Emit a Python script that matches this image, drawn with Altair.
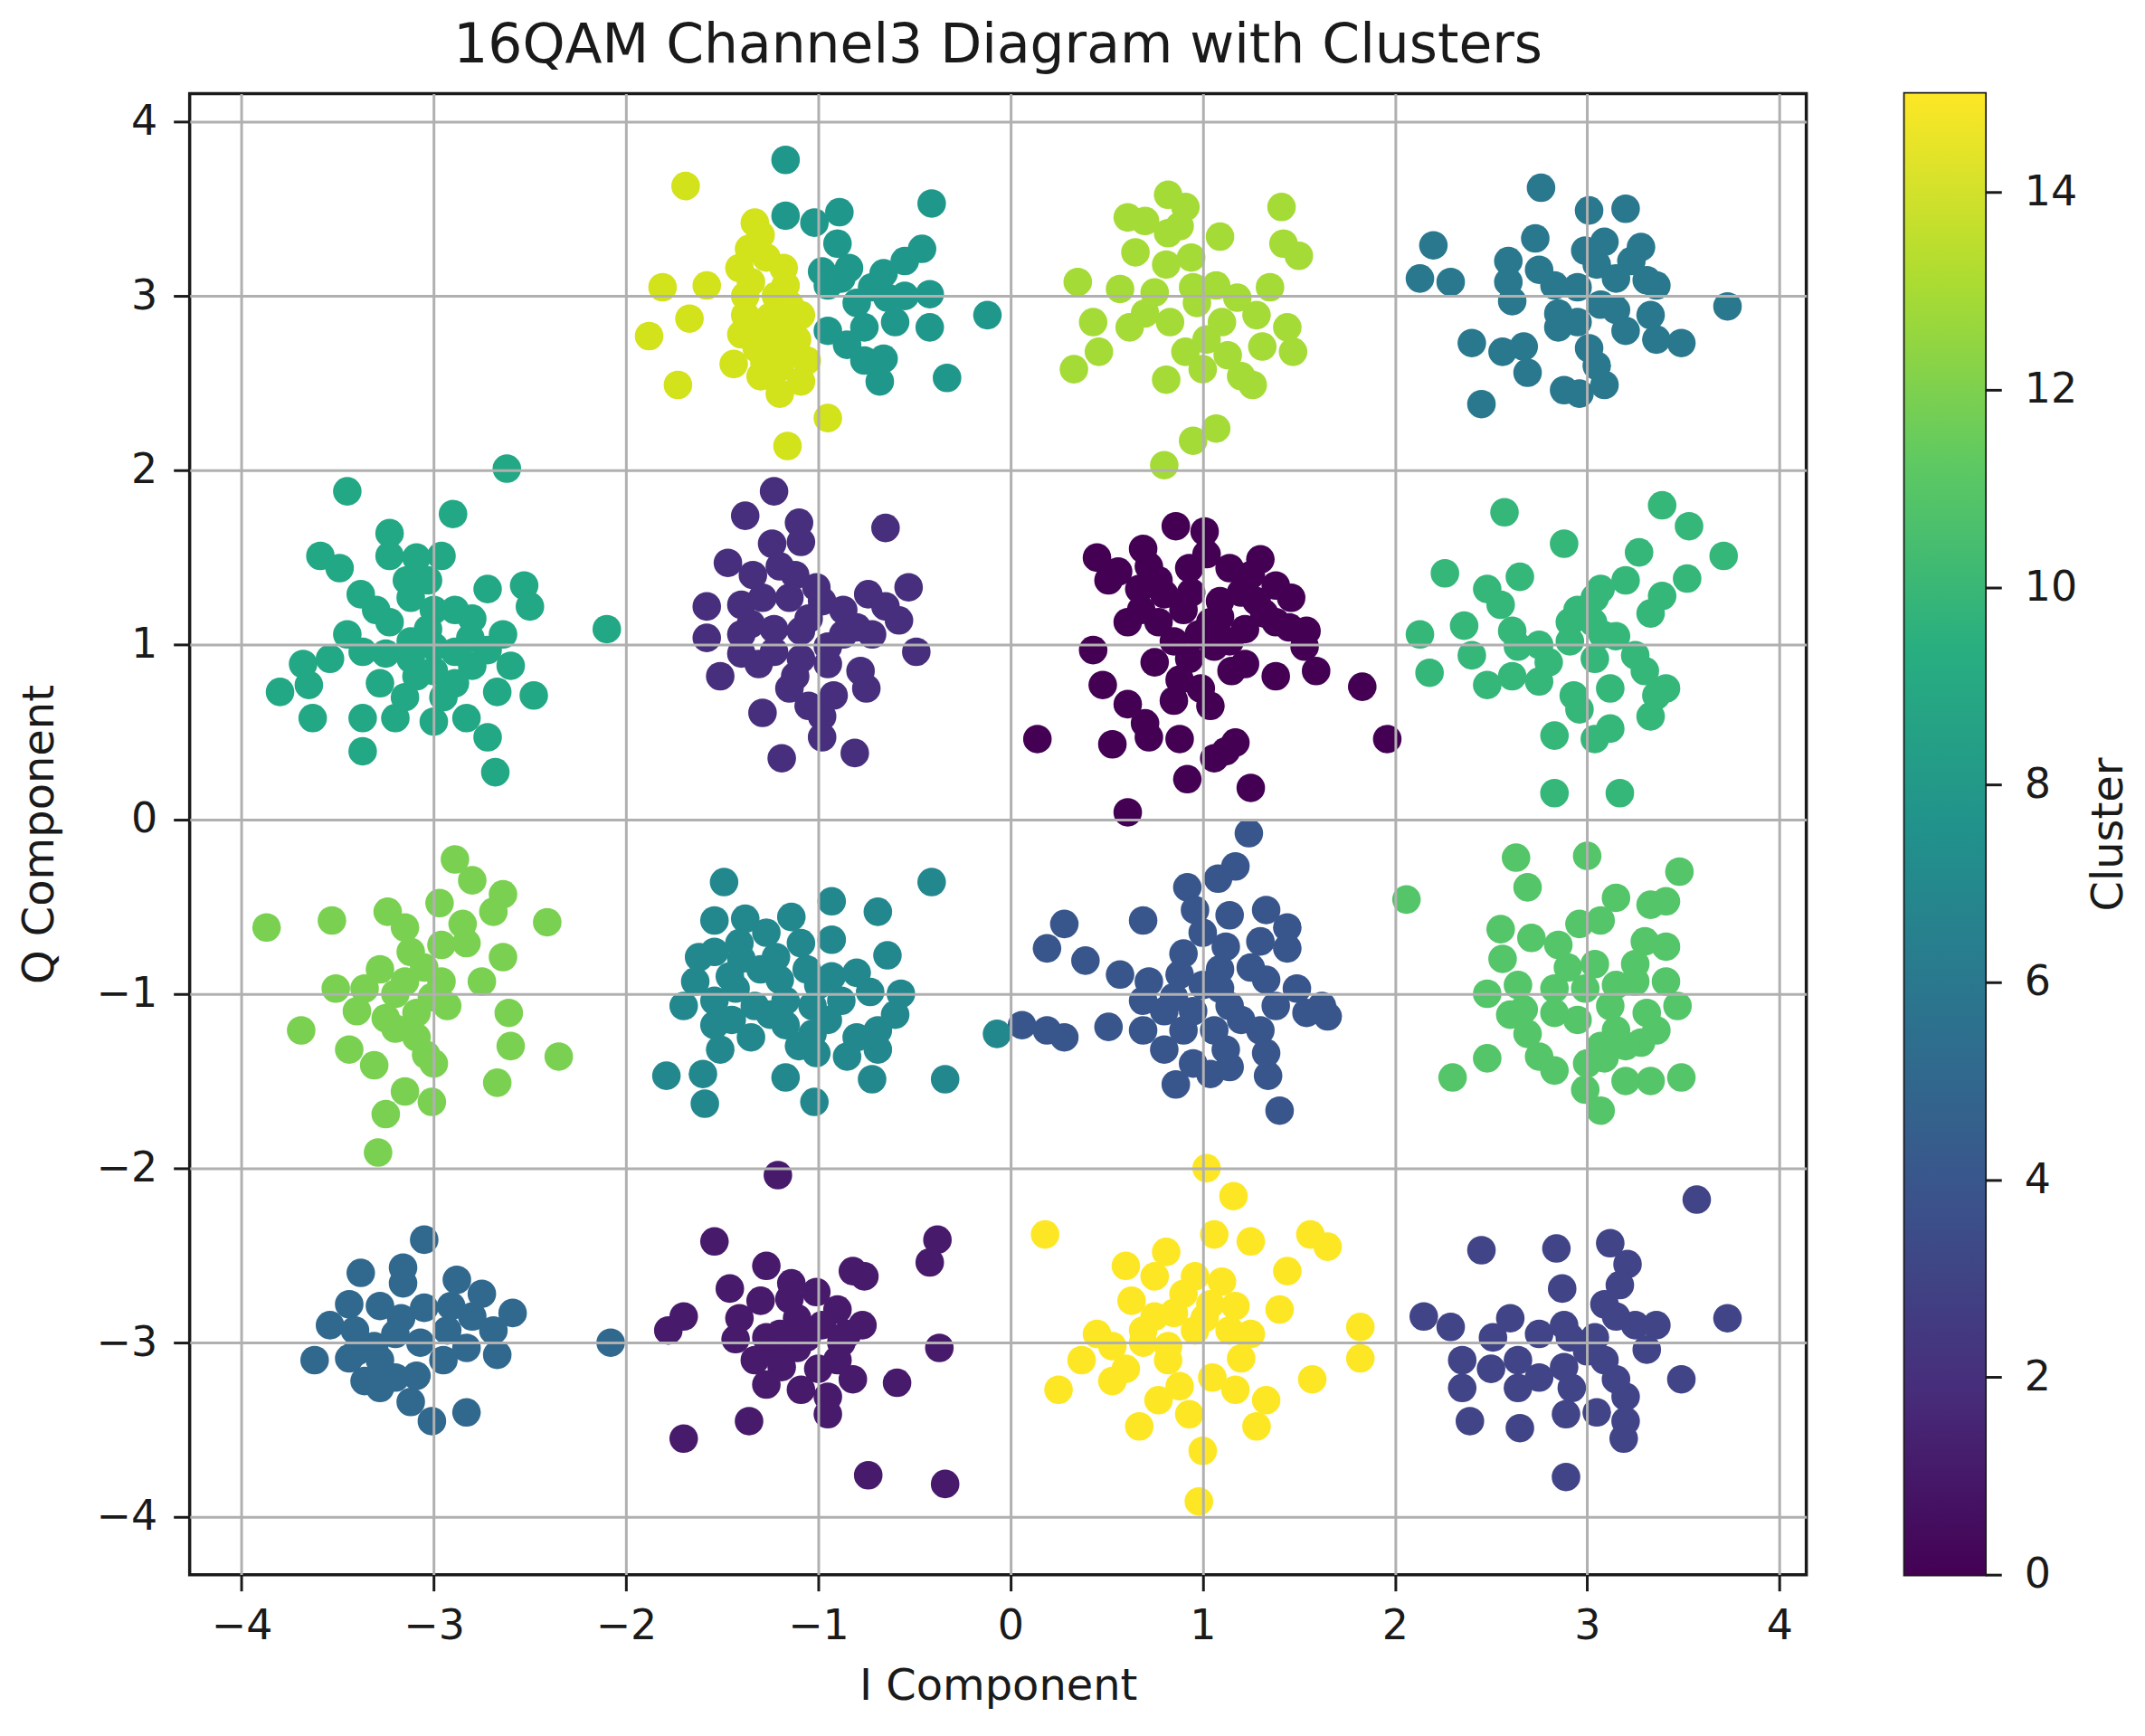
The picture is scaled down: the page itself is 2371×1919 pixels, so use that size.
import altair as alt
import pandas as pd

TITLE = "16QAM Channel3 Diagram with Clusters"
X_TITLE = "I Component"
Y_TITLE = "Q Component"
CBAR_TITLE = "Cluster"
AXIS_TICKS = [-4, -3, -2, -1, 0, 1, 2, 3, 4]
CBAR_TICKS = [0, 2, 4, 6, 8, 10, 12, 14]

# (I, Q) points of each cluster
C00 = [(0.86,1.68),(1.01,1.65),(0.69,1.55),(0.45,1.50),
       (0.51,1.37),(0.67,1.32),(0.77,1.37),(0.93,1.44),(0.94,1.30),(1.14,1.44),(1.30,1.49),(1.20,1.30),(1.38,1.34),(1.46,1.27),
       (0.61,1.13),(0.77,1.13),(0.90,1.20),(1.09,1.16),(1.22,1.09),(1.38,1.13),(1.54,1.08),
       (0.43,0.97),(0.93,0.92),(1.06,0.99),(1.22,0.89),(1.38,0.82),(1.53,0.99),(1.59,0.85),(1.83,0.76),
       (0.48,0.77),(0.61,0.66),(0.85,0.68),(1.04,0.65),(0.99,0.75),
       (0.14,0.46),(0.53,0.43),(0.72,0.47),(0.88,0.46),(1.12,0.39),(1.17,0.44),
       (1.96,0.46),(0.92,0.23),(1.25,0.18),(0.61,0.04),(1.06,0.35),
       (0.80,1.29),(1.09,1.25),(1.28,1.25),(0.85,1.02),(1.14,1.02),(1.04,1.13),
       (0.56,1.42),(0.72,1.45),(1.02,1.52),(1.25,1.40),(0.68,1.20),(0.98,1.06),
       (1.32,1.18),(1.45,1.10),(0.75,0.90),(0.88,0.80),(1.15,0.85),(0.70,0.55)]
C01 = [(-1.21,-2.04),(-1.54,-2.42),(-0.38,-2.41),(-0.42,-2.54),(-1.27,-2.56),(-0.82,-2.59),(-0.76,-2.62),
       (-1.46,-2.69),(-1.14,-2.66),(-1.01,-2.71),(-1.70,-2.85),(-1.78,-2.93),
       (-1.41,-2.86),(-1.30,-2.76),(-1.11,-2.86),(-0.90,-2.81),(-0.77,-2.90),
       (-1.43,-2.98),(-1.27,-2.97),(-1.06,-2.97),(-0.88,-3.00),(-0.37,-3.03),
       (-1.33,-3.10),(-1.19,-3.14),(-0.90,-3.10),(-0.82,-3.21),
       (-1.27,-3.24),(-1.09,-3.27),(-0.95,-3.31),(-0.95,-3.41),(-0.59,-3.23),
       (-1.36,-3.45),(-1.70,-3.55),(-0.74,-3.76),(-0.34,-3.81),(-1.11,-3.03),(-0.98,-2.90),
       (-1.20,-2.95),(-1.00,-3.15),(-1.15,-2.75),(-1.25,-3.05),(-0.85,-2.95)]
C02 = [(-1.23,1.88),(-1.38,1.74),(-1.10,1.70),(-1.09,1.59),(-1.24,1.58),(-0.65,1.67),(-1.47,1.47),
       (-1.34,1.40),(-1.12,1.40),(-1.01,1.33),(-0.53,1.33),
       (-1.58,1.22),(-1.40,1.23),(-1.29,1.27),(-1.15,1.27),(-0.98,1.25),(-0.87,1.20),(-0.74,1.29),(-0.58,1.14),
       (-1.58,1.04),(-1.40,1.06),(-1.23,1.09),(-1.09,1.08),(-0.87,1.06),(-0.72,1.06),(-0.49,0.96),
       (-1.51,0.82),(-1.31,0.89),(-1.12,0.82),(-0.95,0.89),(-0.78,0.85),
       (-0.75,0.75),(-1.29,0.61),(-0.98,0.59),(-0.92,0.71),(-0.98,0.47),(-1.19,0.35),(-0.81,0.38),
       (-1.23,0.96),(-1.09,0.92),(-0.95,0.99),
       (-1.20,1.45),(-1.05,1.15),(-1.35,1.12),(-0.80,1.10),(-1.15,0.75),(-1.40,0.95),(-0.65,1.22),(-1.05,0.65)]
C03 = [(3.57,-2.18),(2.45,-2.47),(2.84,-2.46),(3.12,-2.43),(3.21,-2.55),
       (2.87,-2.69),(3.17,-2.67),(3.09,-2.78),
       (2.15,-2.85),(2.29,-2.91),(2.60,-2.86),(2.88,-2.90),(3.25,-2.90),(3.36,-2.90),(3.73,-2.86),
       (2.51,-2.97),(2.91,-2.97),(3.04,-2.97),(3.31,-3.04),
       (2.35,-3.10),(2.64,-3.10),(2.88,-3.14),(3.09,-3.10),(3.49,-3.21),
       (2.35,-3.26),(2.64,-3.26),(2.92,-3.26),(3.15,-3.21),(3.20,-3.31),
       (2.39,-3.45),(2.65,-3.49),(2.89,-3.41),(3.20,-3.45),(3.19,-3.55),(2.89,-3.77),
       (2.75,-2.95),(3.00,-3.05),(3.15,-2.85),(2.50,-3.15),(3.05,-3.40),(2.75,-3.20)]
C04 = [(1.24,-0.08),(1.17,-0.27),(1.08,-0.34),(0.92,-0.39),(0.96,-0.52),(0.69,-0.58),(0.28,-0.60),(0.19,-0.74),
       (1.33,-0.52),(1.14,-0.55),(1.44,-0.62),(1.44,-0.74),(1.30,-0.70),(0.39,-0.81),
       (0.90,-0.77),(1.12,-0.73),(1.09,-0.86),
       (0.57,-0.89),(0.72,-0.93),(0.88,-0.89),(1.33,-0.92),(1.49,-0.97),(1.62,-1.07),(1.65,-1.13),
       (0.69,-1.04),(0.85,-1.02),(1.09,-0.97),(1.14,-1.07),(1.38,-1.07),(1.54,-1.11),
       (0.06,-1.18),(0.19,-1.21),(0.28,-1.25),(0.51,-1.19),
       (0.69,-1.21),(0.80,-1.32),(0.90,-1.21),(1.06,-1.21),(1.12,-1.32),(1.30,-1.21),(1.33,-1.34),
       (0.86,-1.52),(1.04,-1.46),(1.14,-1.42),(1.34,-1.47),(1.40,-1.67),
       (1.00,-0.65),(0.95,-1.10),(1.00,-0.95),(0.80,-1.10),(1.25,-0.85),(1.20,-1.15),(0.95,-1.40)]
C05 = [(-3.05,-2.41),(-3.38,-2.60),(-3.16,-2.57),(-3.16,-2.66),(-2.88,-2.64),(-2.75,-2.72),(-2.59,-2.83),
       (-3.44,-2.78),(-3.28,-2.79),(-3.17,-2.86),(-3.54,-2.90),(-3.41,-2.93),
       (-2.91,-2.79),(-2.93,-2.93),(-2.69,-2.93),(-2.67,-3.07),(-2.83,-3.03),
       (-3.62,-3.10),(-3.44,-3.09),(-3.28,-3.10),(-3.36,-3.22),(-3.28,-3.26),(-3.09,-3.19),
       (-3.12,-3.34),(-3.01,-3.45),(-2.83,-3.40),(-2.08,-3.00),(-3.07,-3.00),(-3.31,-3.02),
       (-3.20,-2.95),(-3.05,-2.80),(-3.40,-3.05),(-2.95,-3.10),(-3.20,-3.20),(-2.80,-2.85)]
C06 = [(2.76,3.62),(3.01,3.49),(3.20,3.50),(2.73,3.33),(2.20,3.29),(2.59,3.20),
       (2.99,3.26),(3.09,3.31),(3.28,3.28),
       (2.13,3.10),(2.29,3.08),(2.59,3.08),(2.83,3.06),(3.31,3.09),(3.36,3.06),
       (2.61,2.97),(2.85,2.90),(3.07,2.95),(3.15,2.92),(3.33,2.89),(3.73,2.94),
       (2.40,2.73),(2.56,2.68),(2.67,2.71),(2.85,2.82),(3.01,2.70),(3.36,2.75),(3.49,2.73),
       (2.69,2.56),(2.88,2.46),(3.09,2.49),(2.96,2.44),(2.45,2.38),(3.05,3.18),(3.23,3.20),
       (2.95,3.05),(3.15,3.10),(2.75,3.15),(2.95,2.85),(3.20,2.80),(3.05,2.60)]
C07 = [(-1.49,-0.36),(-0.41,-0.36),(-0.93,-0.47),(-0.69,-0.53),(-1.54,-0.58),(-1.38,-0.57),(-1.14,-0.56),
       (-0.93,-0.69),(-0.64,-0.78),
       (-1.62,-0.79),(-1.54,-0.76),(-1.41,-0.71),(-1.27,-0.65),(-1.09,-0.71),
       (-1.64,-0.93),(-1.46,-0.90),(-1.30,-0.86),(-1.06,-0.86),(-0.93,-0.90),(-0.73,-0.99),(-0.57,-1.00),
       (-1.70,-1.07),(-1.54,-1.04),(-1.33,-1.07),(-1.17,-1.04),(-1.03,-1.07),(-0.88,-1.04),
       (-1.54,-1.18),(-1.35,-1.25),(-1.17,-1.18),(-1.03,-1.23),(-0.80,-1.25),(-0.69,-1.21),
       (-1.51,-1.32),(-1.01,-1.34),(-0.85,-1.36),(-0.69,-1.32),(-0.07,-1.23),
       (-1.79,-1.47),(-1.60,-1.46),(-1.17,-1.48),(-0.72,-1.49),(-0.34,-1.49),
       (-1.59,-1.63),(-1.02,-1.62),(-1.22,-0.79),(-1.43,-0.97),
       (-1.40,-0.80),(-1.20,-0.92),(-1.00,-0.95),(-0.80,-0.88),(-1.45,-1.15),
       (-1.25,-1.12),(-0.95,-1.15),(-1.10,-1.30),(-0.60,-1.12)]
C08 = [(-1.17,3.78),(-1.17,3.46),(-1.02,3.42),(-0.89,3.48),(-0.41,3.53),(-0.46,3.27),
       (-0.98,3.14),(-0.84,3.16),(-0.66,3.13),(-0.64,2.99),(-0.80,2.96),(-0.42,3.01),
       (-0.95,2.80),(-0.76,2.82),(-0.42,2.82),(-0.12,2.89),(-0.76,2.63),(-0.66,2.64),
       (-0.68,2.51),(-0.33,2.53),(-0.95,3.06),(-0.72,3.05),(-0.55,3.00),(-0.88,3.10),
       (-0.90,3.30),(-0.60,2.85),(-0.85,2.72),(-0.55,3.20)]
C09 = [(-3.45,1.88),(-2.62,2.01),(-2.90,1.75),(-3.23,1.64),(-3.59,1.51),(-3.49,1.44),
       (-3.23,1.51),(-3.09,1.50),(-2.96,1.51),
       (-3.38,1.29),(-3.14,1.37),(-3.12,1.27),(-2.89,1.20),(-2.72,1.32),(-2.53,1.34),(-2.50,1.22),
       (-2.10,1.09),
       (-3.45,1.06),(-3.23,1.13),(-3.03,1.09),(-2.81,1.04),(-2.64,1.06),
       (-3.68,0.89),(-3.54,0.92),(-3.37,0.96),(-3.12,0.92),(-2.89,0.96),(-2.72,0.97),
       (-3.80,0.73),(-3.65,0.77),
       (-3.28,0.78),(-3.09,0.82),(-2.89,0.78),(-2.67,0.73),(-2.48,0.71),
       (-3.63,0.58),(-3.37,0.58),(-3.20,0.58),(-3.00,0.56),(-2.83,0.58),(-2.72,0.47),
       (-3.37,0.39),(-2.68,0.27),(-3.03,1.37),(-3.00,0.99),(-3.12,1.02),
       (-3.30,1.20),(-3.00,1.20),(-2.80,1.15),(-3.25,0.95),(-3.00,0.85),
       (-2.95,0.70),(-3.15,0.70),(-2.80,0.88),(-2.60,0.88)]
C10 = [(2.57,1.76),(3.39,1.80),(3.53,1.68),(3.71,1.51),(2.88,1.58),(3.27,1.53),
       (2.26,1.41),(2.65,1.39),(2.48,1.32),(2.55,1.23),
       (3.07,1.32),(3.20,1.37),(3.52,1.38),(3.39,1.28),(3.33,1.18),(3.04,1.27),
       (2.13,1.06),(2.36,1.11),(2.61,1.08),(2.64,0.99),(2.91,1.13),(2.91,1.02),(3.08,1.06),(3.25,0.94),
       (2.18,0.84),(2.40,0.94),(2.48,0.77),(2.61,0.82),(2.75,0.79),
       (2.93,0.71),(3.04,0.92),(3.12,0.75),(3.36,0.71),(3.41,0.75),
       (2.83,0.48),(3.04,0.46),(3.12,0.52),(3.33,0.59),
       (2.83,0.15),(3.17,0.15),(2.96,0.63),(3.03,1.13),
       (2.95,1.20),(2.75,1.00),(3.15,1.05),(3.30,0.85),(2.80,0.90)]
C11 = [(2.06,-0.46),(2.63,-0.22),(2.69,-0.39),(3.00,-0.21),(3.48,-0.30),
       (3.15,-0.45),(3.33,-0.49),(3.41,-0.47),(3.07,-0.58),(2.96,-0.60),
       (2.55,-0.63),(2.71,-0.68),(2.85,-0.72),
       (2.56,-0.80),(3.04,-0.83),(3.41,-0.73),(3.25,-0.83),
       (2.48,-1.00),(2.64,-0.95),(2.83,-0.97),(2.99,-0.97),(3.25,-0.93),(3.41,-0.93),
       (2.67,-1.09),(2.83,-1.11),(3.12,-1.07),(3.31,-1.11),(3.47,-1.07),
       (2.69,-1.23),(3.15,-1.21),(3.36,-1.21),(3.07,-1.30),
       (2.48,-1.37),(2.75,-1.36),(3.09,-1.37),(3.28,-1.28),
       (2.30,-1.48),(2.83,-1.44),(2.99,-1.55),(3.33,-1.50),(3.49,-1.48),(3.07,-1.67),(3.20,-1.50),
       (2.90,-0.85),(3.15,-0.95),(2.95,-1.15),(3.20,-1.30),(3.00,-1.40),(2.60,-1.12),(3.30,-0.70)]
C12 = [(-3.87,-0.62),(-3.53,-0.58),(-2.89,-0.23),(-2.80,-0.35),(-2.97,-0.48),(-2.64,-0.43),(-2.69,-0.53),(-2.41,-0.59),
       (-3.24,-0.53),(-3.15,-0.62),(-2.83,-0.71),(-2.96,-0.72),(-3.12,-0.76),(-2.64,-0.79),
       (-3.51,-0.97),(-3.28,-0.86),(-3.36,-0.97),(-3.15,-0.93),(-2.96,-0.93),(-2.75,-0.93),
       (-3.25,-1.14),(-3.09,-1.11),(-2.93,-1.07),(-2.61,-1.11),
       (-3.69,-1.21),(-3.44,-1.32),(-3.31,-1.41),(-3.09,-1.25),(-3.04,-1.35),(-2.60,-1.30),(-2.35,-1.36),
       (-3.25,-1.69),(-3.15,-1.56),(-3.01,-1.62),(-2.67,-1.51),(-3.29,-1.91),(-3.20,-1.00),(-3.01,-1.02),
       (-3.05,-0.85),(-3.20,-1.20),(-3.00,-1.40),(-2.85,-0.60),(-3.40,-1.10)]
C13 = [(0.35,3.08),(0.61,3.45),(0.70,3.43),(0.82,3.58),(0.82,3.36),(0.91,3.51),(1.09,3.34),(1.41,3.51),(1.42,3.30),(1.50,3.23),
       (0.81,3.18),(0.94,3.22),(0.57,3.04),(0.75,3.02),(0.43,2.85),(0.62,2.82),(0.83,2.85),(0.97,2.96),
       (1.07,3.06),(1.18,2.99),(1.28,2.89),(1.44,2.82),(1.02,2.75),(1.13,2.66),(1.31,2.71),(1.47,2.68),
       (0.33,2.58),(0.46,2.68),(0.81,2.52),(1.26,2.49),(1.20,2.54),(0.91,2.68),
       (1.07,2.24),(0.95,2.17),(0.80,2.03),
       (0.65,3.25),(0.95,3.05),(0.70,2.90),(1.10,2.85),(0.88,3.40),(1.35,3.05),(1.00,2.58)]
C14 = [(-1.69,3.63),(-1.81,3.05),(-1.58,3.06),(-1.67,2.87),(-1.88,2.77),(-1.73,2.49),
       (-1.33,3.42),(-1.36,3.27),(-1.41,3.16),(-1.18,3.16),(-1.17,3.06),(-1.38,3.00),
       (-1.38,2.89),(-1.30,2.78),(-1.09,2.89),(-1.11,2.75),(-1.44,2.61),(-1.30,2.54),
       (-1.20,2.59),(-1.06,2.63),(-1.20,2.44),(-1.09,2.51),(-1.25,2.70),(-1.35,3.08),
       (-1.22,3.00),(-1.28,2.62),(-0.95,2.30),(-1.16,2.14),(-1.15,2.95),(-1.27,3.22),
       (-1.30,3.35),(-1.40,2.78),(-1.25,2.88),(-1.15,2.68),(-1.32,2.70),(-1.18,2.80)]
C15 = [(1.02,-2.00),(1.16,-2.16),(0.18,-2.38),(1.06,-2.38),(1.25,-2.42),(1.56,-2.38),(1.65,-2.45),
       (0.60,-2.56),(0.81,-2.48),(0.75,-2.62),(0.96,-2.62),(1.44,-2.59),
       (0.63,-2.76),(0.85,-2.83),(1.04,-2.78),(1.17,-2.79),(1.40,-2.81),
       (1.82,-2.91),(1.82,-3.09),
       (0.53,-3.02),(0.69,-3.00),(0.82,-3.02),(0.96,-2.93),(1.14,-2.93),(1.20,-3.09),
       (0.37,-3.10),(0.25,-3.27),(0.53,-3.22),(0.82,-3.10),(1.57,-3.21),
       (0.77,-3.33),(0.93,-3.41),(1.17,-3.27),(1.33,-3.33),(1.28,-3.48),(0.67,-3.48),
       (1.00,-3.62),(0.98,-3.91),(1.01,-2.86),(0.69,-2.93),
       (0.90,-2.72),(1.10,-2.65),(0.75,-2.85),(1.25,-2.95),(0.45,-2.95),(1.05,-3.20),(0.88,-3.25),(0.60,-3.15)]

CLUSTERS = [C00, C01, C02, C03, C04, C05, C06, C07, C08, C09, C10, C11, C12, C13, C14, C15]
CLUSTER_IDS = list(range(len(CLUSTERS)))

rows = []
for cid, pts in zip(CLUSTER_IDS, CLUSTERS):
    for i_val, q_val in pts:
        rows.append({"I": i_val, "Q": q_val, "Cluster": cid})
df = pd.DataFrame(rows)

FONT = "DejaVu Sans"
INK = "#1a1a1a"

points = alt.Chart(df).mark_circle(size=1000, opacity=1).encode(
    x=alt.X("I:Q",
            scale=alt.Scale(domain=[-4.27, 4.14], nice=False, zero=False),
            axis=alt.Axis(values=AXIS_TICKS, title=X_TITLE, labelPadding=17,
                          titlePadding=20, zindex=1)),
    y=alt.Y("Q:Q",
            scale=alt.Scale(domain=[-4.33, 4.16], nice=False, zero=False),
            axis=alt.Axis(values=AXIS_TICKS, title=Y_TITLE, labelPadding=18,
                          titlePadding=38, zindex=1)),
    color=alt.Color("Cluster:Q",
                    scale=alt.Scale(scheme="viridis", domain=[0, 15]),
                    legend=None),
).properties(
    width=1790, height=1640,
    title=alt.TitleParams(TITLE, fontSize=60, font=FONT, fontWeight="normal",
                          color=INK, offset=21, anchor="middle"),
)

bar_df = pd.DataFrame({"lo": [min(CLUSTER_IDS)], "hi": [max(CLUSTER_IDS)]})
viridis_stops = [
    alt.GradientStop(offset=0.0, color="#440154"),
    alt.GradientStop(offset=0.125, color="#472d7b"),
    alt.GradientStop(offset=0.25, color="#3b528b"),
    alt.GradientStop(offset=0.375, color="#2c728e"),
    alt.GradientStop(offset=0.5, color="#21918c"),
    alt.GradientStop(offset=0.625, color="#28ae80"),
    alt.GradientStop(offset=0.75, color="#5ec962"),
    alt.GradientStop(offset=0.875, color="#addc30"),
    alt.GradientStop(offset=1.0, color="#fde725"),
]
colorbar = alt.Chart(bar_df).mark_rect(
    color=alt.LinearGradient(gradient="linear", stops=viridis_stops,
                             x1=0, x2=0, y1=1, y2=0)
).encode(
    y=alt.Y("lo:Q", scale=alt.Scale(domain=[0, 15], nice=False, zero=False),
            axis=alt.Axis(orient="right", values=CBAR_TICKS, title=CBAR_TITLE,
                          titleAngle=270, grid=False, labelPadding=25,
                          titlePadding=60, zindex=1)),
    y2="hi:Q",
).properties(width=89, height=1640)

chart = alt.hconcat(points, colorbar, spacing=109, bounds="flush").properties(
    padding={"left": 10, "top": 10, "right": 5, "bottom": 5},
).configure(
    font=FONT,
).configure_view(
    stroke=INK, strokeWidth=3.5,
).configure_axis(
    labelFont=FONT, labelFontSize=46, labelColor=INK,
    titleFont=FONT, titleFontSize=48, titleFontWeight="normal", titleColor=INK,
    tickColor=INK, tickWidth=3, tickSize=18,
    domain=False, gridColor="#b0b0b0", gridWidth=3,
)

chart.save("out.html", embed_options={"renderer": "svg", "actions": False})
